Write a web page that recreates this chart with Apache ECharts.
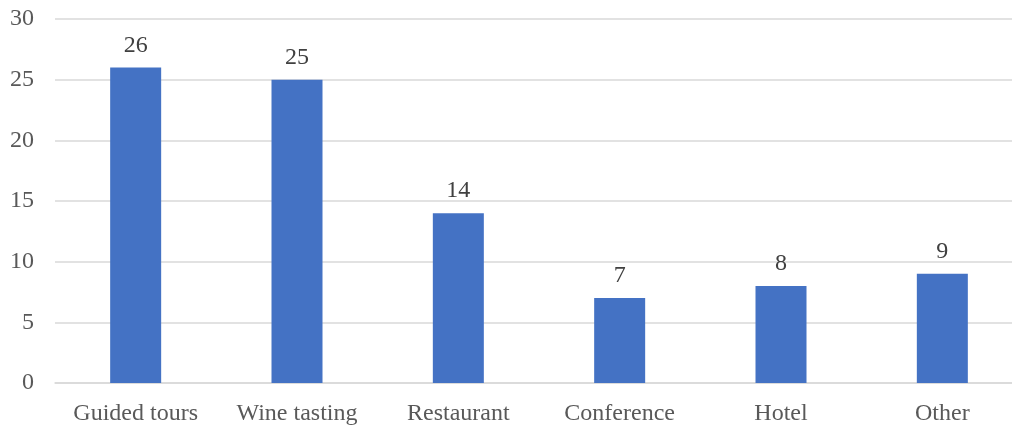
<!DOCTYPE html>
<html><head><meta charset="utf-8">
<script src="https://cdn.jsdelivr.net/npm/echarts@6/dist/echarts.min.js"></script>
<style>html,body{margin:0;padding:0;background:#fff;overflow:hidden}#c{width:1023px;height:426px}</style>
</head><body><div id="c"></div>
<script>
const categories = ['Guided tours','Wine tasting','Restaurant','Conference','Hotel','Other'];
const values = [26,25,14,7,8,9];
const yMin = 0, yMax = 30, yStep = 5;
const chart = echarts.init(document.getElementById('c'), null, {renderer:'canvas'});
const font = '"Liberation Serif","Times New Roman",serif';
chart.setOption({
  animation:false,
  grid:{left:55, right:0, top:19, bottom:42, containLabel:false},
  xAxis:{type:'category', data:categories,
    axisLine:{lineStyle:{color:'#d9d9d9', width:1.5}}, axisTick:{show:false},
    axisLabel:{interval:0, color:'#595959', fontFamily:font, fontSize:24, margin:19}},
  yAxis:{type:'value', min:yMin, max:yMax, interval:yStep,
    axisLine:{show:false}, axisTick:{show:false},
    splitLine:{lineStyle:{color:'#d9d9d9', width:1.5}},
    axisLabel:{color:'#595959', fontFamily:font, fontSize:24, margin:21}},
  series:[{type:'bar', data:values, barWidth:51,
    itemStyle:{color:'#4472C4'},
    label:{show:true, position:'top', distance:10, color:'#404040', fontFamily:font, fontSize:24}}]
});
</script></body></html>
